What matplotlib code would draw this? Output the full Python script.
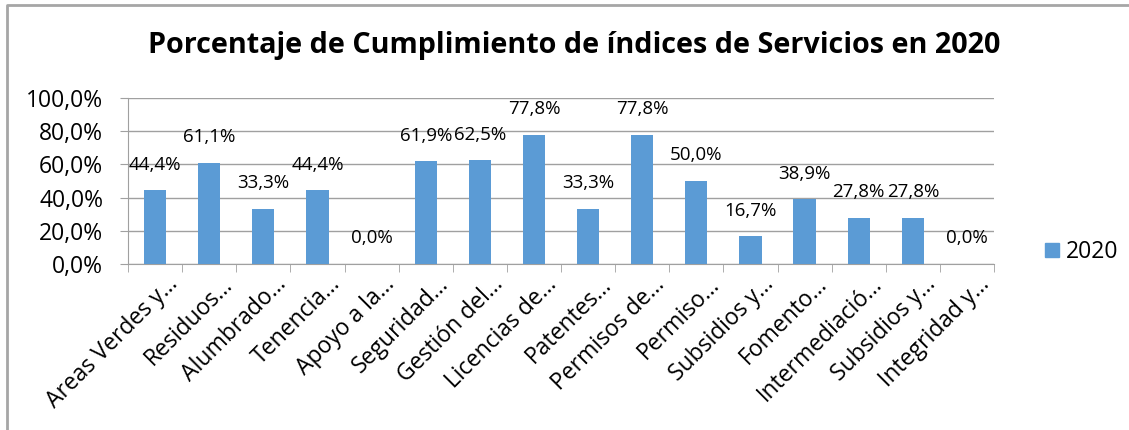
import matplotlib.pyplot as plt
import matplotlib.patches as mpatches
import matplotlib.transforms as mtrans
from matplotlib.lines import Line2D
from matplotlib.ticker import FixedLocator, FuncFormatter
import numpy as np

plt.rcParams['font.family'] = ['Open Sans', 'DejaVu Sans']

# data
categorias = ['Areas Verdes y…', 'Residuos…', 'Alumbrado…', 'Tenencia…',
              'Apoyo a la…', 'Seguridad…', 'Gestión del…', 'Licencias de…',
              'Patentes…', 'Permisos de…', 'Permiso…', 'Subsidios y…',
              'Fomento…', 'Intermediació…', 'Subsidios y…', 'Integridad y…']
valores_2020 = [44.4, 61.1, 33.3, 44.4, 0.0, 61.9, 62.5, 77.8,
                33.3, 77.8, 50.0, 16.7, 38.9, 27.8, 27.8, 0.0]
serie = '2020'
titulo = 'Porcentaje de Cumplimiento de índices de Servicios en 2020'

azul = '#5B9BD5'
gris = '#A0A0A0'

W, H = 1129, 430
fig = plt.figure(figsize=(W / 100, H / 100), dpi=100)
ax = fig.add_axes([128 / W, 1 - 264 / H, (994 - 128) / W, (264 - 98) / H])

x = np.arange(len(categorias))
bars = ax.bar(x, valores_2020, width=0.41, color=azul, zorder=3)

for b, v in zip(bars, valores_2020):
    ax.annotate(('%.1f%%' % v).replace('.', ','),
                (b.get_x() + b.get_width() / 2, v),
                xytext=(0, 12), textcoords='offset points',
                ha='center', va='bottom', fontsize=13.5)

ax.set_xlim(-0.5, len(categorias) - 0.5)
ax.set_ylim(0, 100)
ax.set_yticks(np.arange(0, 101, 20))
ax.yaxis.set_major_formatter(FuncFormatter(lambda v, p: ('%.1f%%' % v).replace('.', ',')))
ax.grid(axis='y', color=gris, linewidth=1, zorder=0)

ax.xaxis.set_minor_locator(FixedLocator(np.arange(-0.5, len(categorias), 1)))
ax.tick_params(axis='x', which='major', length=0, labelsize=16.5, pad=6)
ax.tick_params(axis='x', which='minor', length=6, color=gris)
ax.tick_params(axis='y', length=6, color=gris, labelsize=16.5, pad=12)

ax.set_xticks(x)
ax.set_xticklabels(categorias, rotation=45, ha='right', va='top',
                   rotation_mode='anchor')
# nudge rotated labels a bit to the right, like Excel does
shift = mtrans.ScaledTranslation(11 / 100, 0, fig.dpi_scale_trans)
for lbl in ax.xaxis.get_majorticklabels():
    lbl.set_transform(lbl.get_transform() + shift)

for s in ['top', 'right']:
    ax.spines[s].set_visible(False)
for s in ['left', 'bottom']:
    ax.spines[s].set_color(gris)

fig.text(574 / W, 1 - 46 / H, titulo, ha='center', va='center',
         fontsize=20.7, fontweight='bold')

fig.legend(handles=[mpatches.Patch(color=azul, label=serie)],
           loc='center left', bbox_to_anchor=(1036 / W, 1 - 252 / H),
           frameon=False, fontsize=16.5, handlelength=0.6, handleheight=0.6,
           handletextpad=0.3, borderaxespad=0)

# chart border (top and left edges visible)
fig.add_artist(Line2D([7 / W, 7 / W, 1], [0, 1 - 5 / H, 1 - 5 / H],
                      transform=fig.transFigure, color='#A6A6A6', linewidth=2))

fig.savefig('out.png', dpi=100)
